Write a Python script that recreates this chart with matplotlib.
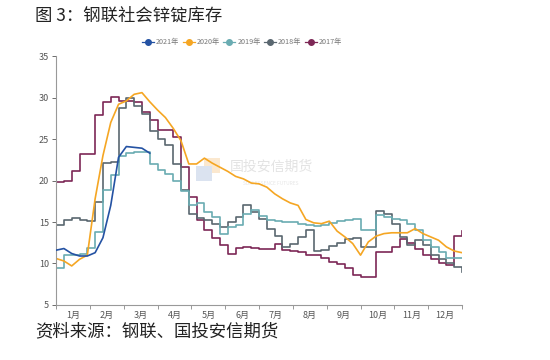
"""
钢联社会锌锭库存 - weekly stocks by year.
"""

import numpy as np
import matplotlib
matplotlib.use("Agg")
import matplotlib.pyplot as plt
from matplotlib.ticker import FixedLocator
from matplotlib.patches import Rectangle

plt.rcParams["font.family"] = ["Noto Sans CJK SC", "DejaVu Sans"]

months = ["1月", "2月", "3月", "4月", "5月", "6月",
          "7月", "8月", "9月", "10月", "11月", "12月"]

# weekly values (week 0 .. 52)
stock_2017 = [19.8, 20.0, 21.2, 23.2, 23.2, 27.9, 29.5, 30.1, 29.6, 29.6,
              29.5, 28.3, 27.3, 26.1, 26.1, 25.3, 21.6, 18.0, 15.2, 14.0,
              13.1, 12.2, 11.2, 11.9, 12.0, 11.9, 11.7, 11.7, 12.3, 11.6,
              11.5, 11.4, 11.0, 11.0, 10.7, 10.2, 9.9, 9.5, 8.6, 8.4,
              8.4, 11.4, 11.4, 12.0, 13.0, 12.5, 11.7, 11.0, 10.5, 10.0,
              9.8, 13.3, 13.9]
stock_2018 = [14.6, 15.2, 15.5, 15.2, 15.1, 17.4, 22.1, 22.2, 28.8, 30.0,
              29.0, 28.0, 26.0, 25.0, 24.3, 22.0, 18.8, 16.0, 15.5, 15.2,
              14.8, 14.4, 15.0, 15.6, 17.0, 16.2, 15.4, 14.2, 13.3, 12.0,
              12.3, 13.2, 14.0, 11.5, 11.6, 12.1, 12.5, 12.9, 13.1, 12.0,
              12.0, 16.3, 16.0, 14.8, 13.2, 12.2, 12.8, 12.2, 11.0, 10.5,
              10.0, 9.6, 9.0]
stock_2019 = [9.5, 11.0, 11.0, 11.2, 11.9, 13.8, 18.9, 20.7, 22.9, 23.3,
              23.4, 23.5, 22.0, 21.3, 20.8, 19.9, 18.7, 17.0, 17.3, 16.2,
              15.6, 13.6, 14.4, 14.6, 16.0, 16.5, 15.7, 15.3, 15.1, 15.0,
              15.0, 14.8, 14.6, 14.5, 14.6, 14.9, 15.1, 15.2, 15.4, 14.0,
              14.0, 15.8, 15.6, 15.4, 15.2, 14.8, 14.0, 12.8, 12.0, 11.4,
              10.6, 10.6, 10.7]
stock_2020 = [10.6, 10.3, 9.7, 10.5, 11.0, 17.8, 23.0, 27.0, 29.2, 29.6,
              30.4, 30.6, 29.5, 28.5, 27.6, 26.3, 24.8, 22.0, 22.0, 22.7,
              22.1, 21.6, 21.1, 20.5, 20.2, 19.7, 19.6, 19.2, 18.4, 17.8,
              17.3, 17.0, 15.3, 14.9, 14.8, 15.1, 13.9, 13.2, 12.4, 11.0,
              12.6, 13.3, 13.6, 13.7, 13.7, 13.7, 14.2, 13.6, 13.2, 12.8,
              12.0, 11.5, 11.3]
stock_2021 = [11.6, 11.8, 11.2, 10.9, 10.9, 11.3, 13.1, 17.0, 22.8, 24.1,
              24.0, 23.9, 23.3]

series = [
    ("2021年", stock_2021, "#2452a3", False),
    ("2020年", stock_2020, "#f5a623", False),
    ("2019年", stock_2019, "#6aacb2", True),
    ("2018年", stock_2018, "#5a6770", True),
    ("2017年", stock_2017, "#7d2756", True),
]

fig = plt.figure(figsize=(5.5, 3.6), dpi=100)
ax = fig.add_axes([0.102, 0.153, 0.738, 0.691])

n_weeks = 52
# draw older years first so 2021 sits on top
for name, vals, color, stepped in reversed(series):
    weeks = np.arange(len(vals))
    ax.plot(weeks, vals, color=color, lw=1.2,
            drawstyle="steps-post" if stepped else "default",
            zorder=3 if name == "2021年" else 2)

# legend with line+dot handles
handles = []
for name, vals, color, stepped in series:
    h, = ax.plot([], [], color=color, lw=0.9, marker="o", markersize=4,
                 label=name)
    handles.append(h)
fig.legend(handles=handles, loc="center", bbox_to_anchor=(0.44, 0.882),
           ncol=5, frameon=False, fontsize=5.2, labelcolor="#777777",
           handlelength=1.7, handletextpad=0.25, columnspacing=0.45)

ax.set_xlim(0, n_weeks)
ax.set_ylim(5, 35)
ax.set_yticks(np.arange(5, 36, 5))
ax.tick_params(axis="y", labelsize=6.5, colors="#555555", length=3,
               width=0.6, pad=2)

bounds = np.arange(13) * n_weeks / 12
centers = (bounds[:-1] + bounds[1:]) / 2
ax.set_xticks(centers)
ax.set_xticklabels(months)
ax.xaxis.set_minor_locator(FixedLocator(bounds))
ax.tick_params(axis="x", which="major", length=0, labelsize=6.5,
               colors="#555555", pad=4)
ax.tick_params(axis="x", which="minor", length=3, width=0.6,
               color="#888888")

for side in ["top", "right"]:
    ax.spines[side].set_visible(False)
for side in ["left", "bottom"]:
    ax.spines[side].set_color("#999999")
    ax.spines[side].set_linewidth(0.8)

# watermark: faint logo block plus company name
ax.add_patch(Rectangle((0.345, 0.50), 0.04, 0.06, transform=ax.transAxes,
                       facecolor="#dbe3f0", edgecolor="none", zorder=1))
ax.add_patch(Rectangle((0.365, 0.53), 0.04, 0.06, transform=ax.transAxes,
                       facecolor="#fbe8cf", edgecolor="none", zorder=0.9))
ax.text(0.53, 0.555, "国投安信期货", transform=ax.transAxes, fontsize=10,
        color="#e3e3e3", ha="center", va="center", zorder=1)
ax.text(0.53, 0.49, "SDIC ESSENCE FUTURES", transform=ax.transAxes,
        fontsize=3.5, color="#e6e6e6", ha="center", va="center", zorder=1)

fig.text(0.064, 0.955, "图 3：钢联社会锌锭库存", fontsize=12.5,
         color="#222222", va="center")
fig.text(0.064, 0.08, "资料来源：钢联、国投安信期货", fontsize=12.5,
         color="#222222", va="center")

fig.savefig("out.png", dpi=100)
